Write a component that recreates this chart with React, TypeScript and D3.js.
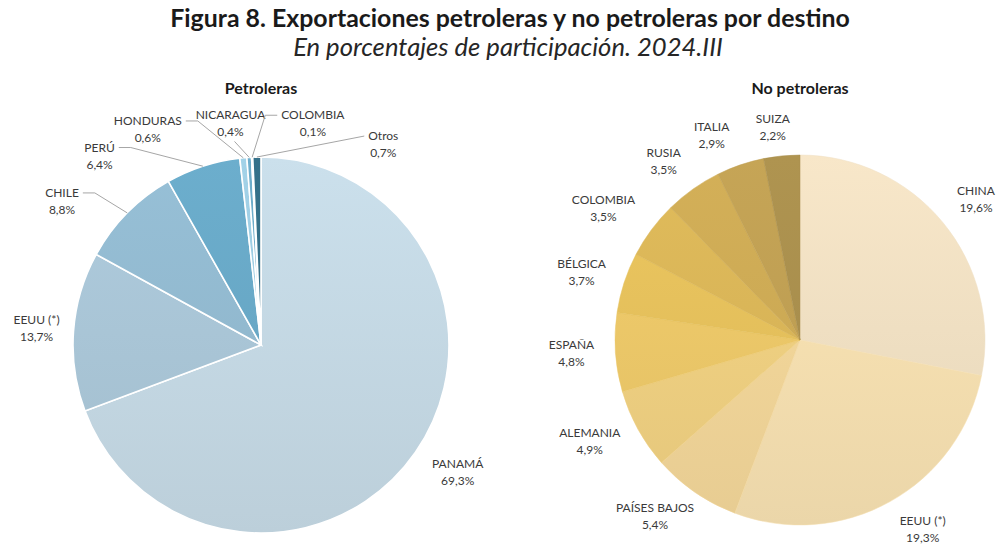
import React, { useEffect, useRef } from 'react';
import * as d3 from 'd3';

const titleText = 'Figura 8. Exportaciones petroleras y no petroleras por destino';
const subtitleText = 'En porcentajes de participación. 2024.III';

const petrolNames = ['PANAMÁ', 'EEUU (*)', 'CHILE', 'PERÚ', 'HONDURAS', 'NICARAGUA', 'COLOMBIA', 'Otros'];
const petrolValues = [69.3, 13.7, 8.8, 6.4, 0.6, 0.4, 0.1, 0.7];
const petrolColors = ['#c4d8e4', '#a9c5d6', '#92b9cf', '#68a8c6', '#9ccbe0', '#6aa8c5', '#4c90ae', '#336d85'];

const noPetrolNames = ['CHINA', 'EEUU (*)', 'PAÍSES BAJOS', 'ALEMANIA', 'ESPAÑA', 'BÉLGICA', 'COLOMBIA', 'RUSIA', 'ITALIA', 'SUIZA'];
const noPetrolValues = [19.6, 19.3, 5.4, 4.9, 4.8, 3.7, 3.5, 3.5, 2.9, 2.2];
const noPetrolColors = ['#efdfc2', '#f5dfb0', '#f1d598', '#eecf80', '#ebc768', '#e5c05c', '#d9b558', '#cdaa55', '#bf9f53', '#a98f4d'];

type Leader = 'right' | 'left' | 'leftStraight' | 'below';
type LabelPos = { dx: number; dy: number; leader?: Leader };

// label nudges relative to the default spot outside each slice
const petrolLayout: Record<string, LabelPos> = {
  'PANAMÁ': { dx: 20, dy: 5 },
  'EEUU (*)': { dx: -10, dy: 0 },
  'CHILE': { dx: -46, dy: 8, leader: 'right' },
  'PERÚ': { dx: -95, dy: 16, leader: 'right' },
  'HONDURAS': { dx: -93, dy: -1, leader: 'right' },
  'NICARAGUA': { dx: -17, dy: -6, leader: 'below' },
  'COLOMBIA': { dx: 62, dy: -6, leader: 'left' },
  'Otros': { dx: 127, dy: 15, leader: 'leftStraight' },
};

const noPetrolLayout: Record<string, LabelPos> = {
  'CHINA': { dx: 10, dy: -3 },
  'EEUU (*)': { dx: 18, dy: 2 },
  'PAÍSES BAJOS': { dx: -23, dy: 0 },
  'ALEMANIA': { dx: -22, dy: -2 },
  'ESPAÑA': { dx: -14, dy: -1 },
  'BÉLGICA': { dx: -14, dy: 0 },
  'COLOMBIA': { dx: -24, dy: -3 },
  'RUSIA': { dx: -12, dy: -3 },
  'ITALIA': { dx: -19, dy: -1 },
  'SUIZA': { dx: -6, dy: 2 },
};

const FONT = 'Lato, "Open Sans", sans-serif';
const fmt = (v: number) => v.toFixed(1).replace('.', ',') + '%';

export default function App() {
  const ref = useRef<SVGSVGElement>(null);

  useEffect(() => {
    const svg = d3.select(ref.current);
    svg.selectAll('*').remove();
    const defs = svg.append('defs');

    const fit = (sel: any, target: number) => {
      const len = sel.node().getComputedTextLength();
      const fs = parseFloat(sel.attr('font-size'));
      sel.attr('font-size', (fs * target) / len);
    };

    const title = svg.append('text')
      .attr('x', 510).attr('y', 27)
      .attr('text-anchor', 'middle')
      .attr('font-family', FONT).attr('font-weight', 700).attr('font-size', 20)
      .attr('fill', '#1a1a1a')
      .text(titleText);
    fit(title, 680);

    const sub = svg.append('text')
      .attr('x', 508).attr('y', 56)
      .attr('text-anchor', 'middle')
      .attr('font-family', FONT).attr('font-style', 'italic').attr('font-size', 20)
      .attr('fill', '#262626')
      .text(subtitleText);
    fit(sub, 430);

    const drawPie = (
      id: string, heading: string, names: string[], values: number[], colors: string[],
      cx: number, cy: number, r: number, stroke: string, layout: Record<string, LabelPos>,
    ) => {
      svg.append('text')
        .attr('x', cx).attr('y', 94)
        .attr('text-anchor', 'middle')
        .attr('font-family', FONT).attr('font-weight', 700).attr('font-size', 16)
        .attr('fill', '#1a1a1a')
        .text(heading);

      const arcs = d3.pie<number>().sort(null).value(d => d)(values);
      const arc = d3.arc<d3.PieArcDatum<number>>().innerRadius(0).outerRadius(r);
      const g = svg.append('g').attr('transform', `translate(${cx},${cy})`);

      colors.forEach((c, i) => {
        const grad = defs.append('linearGradient')
          .attr('id', `${id}-g${i}`)
          .attr('gradientUnits', 'userSpaceOnUse')
          .attr('x1', 0).attr('y1', -r).attr('x2', 0).attr('y2', r);
        grad.append('stop').attr('offset', 0).attr('stop-color', d3.color(c)!.brighter(0.1).formatHex());
        grad.append('stop').attr('offset', 1).attr('stop-color', d3.color(c)!.darker(0.12).formatHex());
      });

      g.selectAll('path')
        .data(arcs)
        .join('path')
        .attr('d', arc)
        .attr('fill', (_, i) => `url(#${id}-g${i})`)
        .attr('stroke', (_, i) => stroke || colors[i])
        .attr('stroke-width', stroke ? 1.6 : 0.5);

      const labelR = 215;
      arcs.forEach((a, i) => {
        const name = names[i];
        const pos = layout[name] || { dx: 0, dy: 0 };
        const mid = (a.startAngle + a.endAngle) / 2;
        const lx = cx + Math.sin(mid) * labelR + pos.dx;
        const ly = cy - Math.cos(mid) * labelR + pos.dy;

        const t1 = svg.append('text')
          .attr('x', lx).attr('y', ly - 5)
          .attr('text-anchor', 'middle')
          .attr('font-family', FONT).attr('font-size', 12)
          .attr('fill', '#3a3a3a')
          .text(name);
        svg.append('text')
          .attr('x', lx).attr('y', ly + 12)
          .attr('text-anchor', 'middle')
          .attr('font-family', FONT).attr('font-size', 12)
          .attr('fill', '#3a3a3a')
          .text(fmt(values[i]));

        if (!pos.leader) return;
        const w = (t1.node() as SVGTextElement).getComputedTextLength();
        const edge: [number, number] = [cx + Math.sin(mid) * r, cy - Math.cos(mid) * r];
        const my = ly - 9;
        let pts: [number, number][] = [];
        if (pos.leader === 'right') {
          const x0 = lx + w / 2 + 4;
          pts = [[x0, my], [x0 + 12, my], edge];
        } else if (pos.leader === 'left') {
          const x0 = lx - w / 2 - 4;
          pts = [[x0, my], [x0 - 12, my], edge];
        } else if (pos.leader === 'leftStraight') {
          pts = [[lx - w / 2 - 4, my], edge];
        } else {
          pts = [[lx + 4, ly + 17], edge];
        }
        svg.append('path')
          .attr('d', d3.line()(pts))
          .attr('fill', 'none')
          .attr('stroke', '#a6a6a6')
          .attr('stroke-width', 1);
      });
    };

    drawPie('pet', 'Petroleras', petrolNames, petrolValues, petrolColors, 261, 345, 188, '#ffffff', petrolLayout);
    drawPie('nop', 'No petroleras', noPetrolNames, noPetrolValues, noPetrolColors, 800, 340, 185, '', noPetrolLayout);
  }, []);

  return (
    <svg
      ref={ref}
      width={998}
      height={549}
      style={{ position: 'absolute', left: 0, top: 0, background: '#ffffff' }}
    />
  );
}
